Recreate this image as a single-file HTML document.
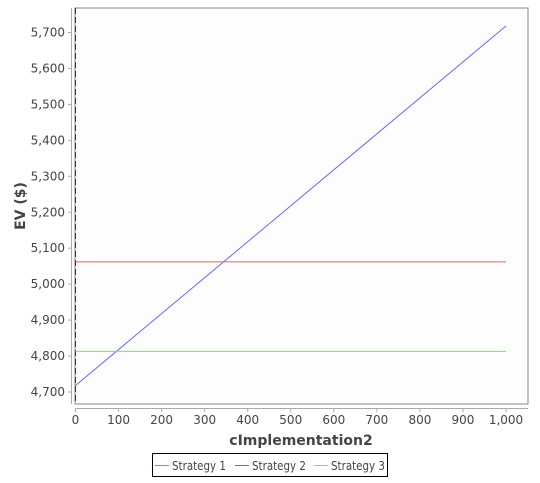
<!DOCTYPE html>
<html><head><meta charset="utf-8"><style>
body{margin:0;background:#fff;font-family:"Liberation Sans","DejaVu Sans",sans-serif}
text{font-family:"DejaVu Sans","Liberation Sans",sans-serif}
</style></head><body>
<svg id="c" width="540" height="478" xmlns="http://www.w3.org/2000/svg"></svg>
<script>
const xTicks=[0,100,200,300,400,500,600,700,800,900,1000];
const yTicks=[4700,4800,4900,5000,5100,5200,5300,5400,5500,5600,5700];
const seriesNames=["Strategy 1","Strategy 2","Strategy 3"];
const seriesColors=["#f06060","#6666ff","#66ee66"];
const xs=[0,1000];
const s1=[5062,5062];
const s2=[4718,5718];
const s3=[4813,4813];
const series=[s1,s2,s3];
const svg=document.getElementById('c');const NS="http://www.w3.org/2000/svg";
function X(v){return 75.5+v*0.4305;}
function Y(v){return 392-(v-4700)*0.3595;}
function el(t,a,p){const e=document.createElementNS(NS,t);for(const k in a)e.setAttribute(k,a[k]);(p||svg).appendChild(e);return e;}
const plot=el('rect',{x:75,y:8,width:453,height:396,fill:'#fdfdfd',stroke:'#888','stroke-width':1});

el('line',{x1:75.5,y1:8,x2:75.5,y2:404,stroke:'#333','stroke-dasharray':'6,3'});
const ya=el('line',{x1:71.5,y1:8,x2:71.5,y2:404,stroke:'#aaa'});

const xa=el('line',{x1:75,y1:408.5,x2:528,y2:408.5,stroke:'#aaa'});

yTicks.forEach(v=>{const y=Y(v);el('line',{x1:68,y1:y,x2:71,y2:y,stroke:'#aaa'});
const t=el('text',{x:65,y:y+4,'text-anchor':'end','font-size':12,fill:'#444'});t.textContent=v.toLocaleString('en-US');
});
xTicks.forEach(v=>{const x=X(v);el('line',{x1:x,y1:409,x2:x,y2:412,stroke:'#aaa'});
const t=el('text',{x:x,y:424,'text-anchor':'middle','font-size':12,fill:'#444'});t.textContent=v.toLocaleString('en-US');
});
series.forEach((s,i)=>{const l=el('line',{x1:X(xs[0]),y1:Y(s[0]),x2:X(xs[1]),y2:Y(s[1]),stroke:seriesColors[i],'stroke-width':1});
});
const xt=el('text',{x:301,y:445,'text-anchor':'middle','font-size':14,'font-weight':'bold',fill:'#444'});xt.textContent='cImplementation2';

const yt=el('text',{x:25,y:206,'text-anchor':'middle','font-size':14,'font-weight':'bold',fill:'#444',transform:'rotate(-90 25 206)'});yt.textContent='EV ($)';

const lg=el('rect',{x:152.5,y:453.5,width:235,height:23,fill:'#fff',stroke:'#000'});

const lx=[155,235,314];
seriesNames.forEach((n,i)=>{const g=el('g',{});

el('line',{x1:lx[i],y1:465.5,x2:lx[i]+14,y2:465.5,stroke:seriesColors[i]},g);
const t=el('text',{x:lx[i]+17,y:470,'font-size':12,fill:'#444',textLength:54,lengthAdjust:'spacingAndGlyphs'},g);t.textContent=n;});
</script>
</body></html>
